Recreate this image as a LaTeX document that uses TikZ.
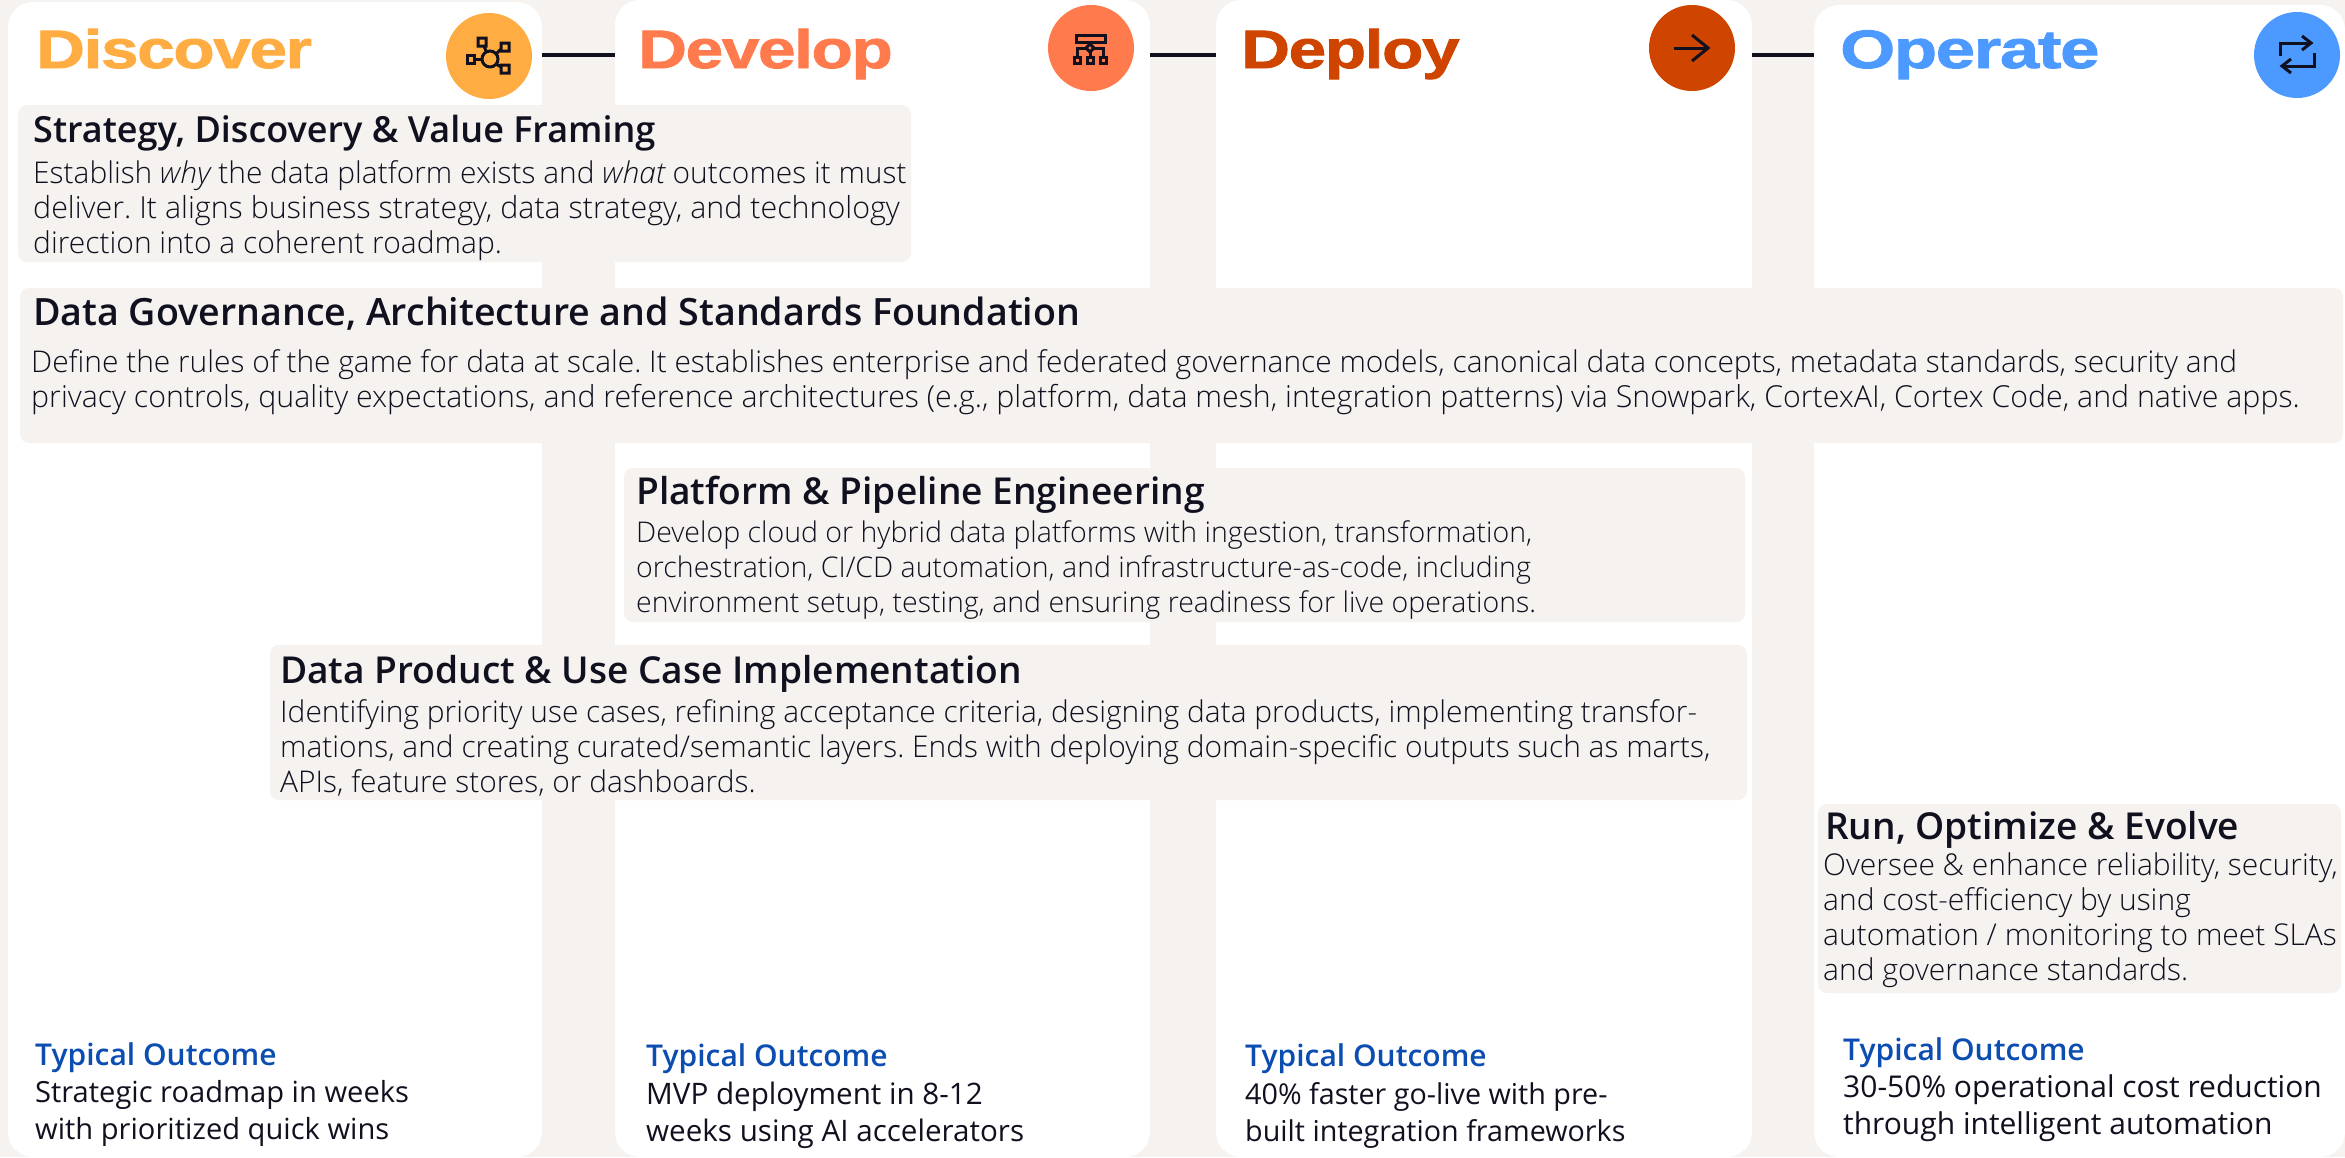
\documentclass[tikz,border=0pt]{standalone}
\usepackage{fontspec}
\setmainfont{Open Sans}
\newfontfamily\lightf{Open Sans Light}[ItalicFont={Open Sans Light Italic}]
\newfontfamily\semif{Open Sans Semibold}
\newfontfamily\headf{Liberation Sans Bold}[FakeStretch=1.25,FakeBold=1.6,LetterSpace=-2.5]
\newfontfamily\headw{Liberation Sans Bold}[FakeStretch=1.31,FakeBold=1.6,LetterSpace=-2.5]
\newcommand{\fsz}[2]{\fontsize{#1}{#2}\selectfont}
\definecolor{bgc}{HTML}{F5F2EF}
\definecolor{ink}{HTML}{10101F}
\definecolor{cDis}{HTML}{FFAD42}
\definecolor{cDev}{HTML}{FF7B4D}
\definecolor{cDep}{HTML}{CF4500}
\definecolor{cOpe}{HTML}{4C9AFF}
\definecolor{outc}{HTML}{0B4DB0}
\tikzset{
 card/.style={fill=white,draw=none,rounded corners=25pt,anchor=north west,inner sep=0,outer sep=0},
 band/.style={fill=bgc,draw=none,rounded corners=9pt,anchor=north west,inner sep=0,outer sep=0},
 heading/.style={anchor=base west,inner sep=0,font=\headf\fsz{54}{54}},
 badge/.style={circle,inner sep=0,minimum size=86pt,draw=none},
 link/.style={draw=ink,line width=4pt},
 ttl/.style={anchor=base west,inner sep=0,text=ink,font=\semif\fsz{#1}{44}},
 ttl/.default=37.1,
 body/.style={anchor=base west,inner sep=0,text=ink,align=left,font=\lightf\frenchspacing\fsz{#1}{35}},
 otitle/.style={anchor=base west,inner sep=0,text=outc,font=\semif\fsz{30}{35}},
 otext/.style={anchor=base west,inner sep=0,text=ink,align=left,font=\fsz{#1}{37}},
 ico/.style={draw=ink,line width=3pt,fill=none},
}
\begin{document}
\begin{tikzpicture}[x=1pt,y=-1pt]
\useasboundingbox (0,0) rectangle (2345,1157);
\fill[bgc] (0,0) rectangle (2345,1157);
% cards
\node[card,minimum width=534pt,minimum height=1155pt] (card1) at (8,2) {};
\node[card,minimum width=535pt,minimum height=1157pt] (card2) at (615,0) {};
\node[card,minimum width=536pt,minimum height=1157pt] (card3) at (1216,0) {};
\node[card,minimum width=531pt,minimum height=1152pt] (card4) at (1814,5) {};
% connectors
\coordinate (l1a) at (card1.east |- 0,55); \coordinate (l1b) at (card2.west |- 0,55);
\coordinate (l2a) at (card2.east |- 0,55); \coordinate (l2b) at (card3.west |- 0,55);
\coordinate (l3a) at (card3.east |- 0,55); \coordinate (l3b) at (card4.west |- 0,55);
\draw[link] (l1a) -- (l1b);
\draw[link] (l2a) -- (l2b);
\draw[link] (l3a) -- (l3b);
% headings
\node[heading,text=cDis] (hDis) at (36,68) {Discover};
\node[heading,text=cDev] (hDev) at (638,68) {Develop};
\node[heading,text=cDep] (hDep) at (1241,68) {Deploy};
\node[heading,text=cOpe,font=\headw\fsz{54}{54}] (hOpe) at (1840,68) {Operate};
% badges
\node[badge,fill=cDis] (bDis) at (489,56) {};
\node[badge,fill=cDev] (bDev) at (1091,48) {};
\node[badge,fill=cDep] (bDep) at (1692,48) {};
\node[badge,fill=cOpe] (bOpe) at (2297,55) {};
% icon: hub
\begin{scope}[shift={(489,56)}]
 \draw[ico] (1,3) circle (8);
 \draw[ico] (-22,-1) rectangle (-15,7) (-15,3) -- (-7,3);
 \draw[ico] (-11,-18) rectangle (-3,-10) (-5,-10) -- (-3,-5);
 \draw[ico] (12,-13) rectangle (20,-5) (12,-7) -- (7,-2);
 \draw[ico] (12,9) rectangle (20,17) (12,11) -- (7,8);
\end{scope}
% icon: hierarchy
\begin{scope}[shift={(1091,48)}]
 \draw[ico] (-15,-13) rectangle (14,-6);
 \draw[ico] (-1,-6) -- (-1,-4);
 \draw[ico] (-1,-4) -- (3,0) -- (-1,4) -- (-5,0) -- cycle;
 \draw[ico] (-5,0) -- (-14,0) -- (-14,8);
 \draw[ico] (3,0) -- (12,0) -- (12,8);
 \draw[ico] (-1,4) -- (-1,8);
 \draw[ico] (-17,9) rectangle (-11,15);
 \draw[ico] (-4,9) rectangle (2,15);
 \draw[ico] (9,9) rectangle (15,15);
\end{scope}
% icon: arrow
\begin{scope}[shift={(1692,48)}]
 \draw[ico] (-18,0) -- (16,0);
 \draw[ico] (0,-13) -- (16,0) -- (0,13);
\end{scope}
% icon: swap
\begin{scope}[shift={(2297,55)}]
 \draw[ico] (-17,1) -- (-17,-12) -- (14,-12);
 \draw[ico] (5,-19) -- (14,-12) -- (5,-5);
 \draw[ico] (17,-2) -- (17,11) -- (-15,11);
 \draw[ico] (-6,4) -- (-15,11) -- (-6,18);
\end{scope}
% bands
\node[band,minimum width=893pt,minimum height=157pt] (bA) at (18,105) {};
\node[band,minimum width=2323pt,minimum height=155pt] (bB) at (20,288) {};
\node[band,minimum width=1121pt,minimum height=154pt] (bC) at (624,468) {};
\node[band,minimum width=1477pt,minimum height=155pt] (bD) at (270,645) {};
\node[band,minimum width=523pt,minimum height=189pt] (bE) at (1818,804) {};
% band text (base anchor = last line)
\node[ttl=36] (tA) at (33,142) {Strategy, Discovery \& Value Framing};
\node[body=30] (xA) at (33,253) {\fsz{29.9}{35}Establish {\itshape why} the data platform exists and {\itshape what} outcomes it must\\\fsz{30.4}{35}deliver. It aligns business strategy, data strategy, and technology\\direction into a coherent roadmap.};
\node[ttl=37.6] (tB) at (33,325) {Data Governance, Architecture and Standards Foundation};
\node[body=30.2] (xB) at (31,407) {\fsz{29.9}{35}Define the rules of the game for data at scale. It establishes enterprise and federated governance models, canonical data concepts, metadata standards, security and\\\fsz{30.3}{35}privacy controls, quality expectations, and reference architectures (e.g., platform, data mesh, integration patterns) via Snowpark, CortexAI, Cortex Code, and native apps.};
\node[ttl] (tC) at (636,504) {Platform \& Pipeline Engineering};
\node[body=28.5] (xC) at (636,612) {Develop cloud or hybrid data platforms with ingestion, transformation,\\orchestration, CI/CD automation, and infrastructure-as-code, including\\environment setup, testing, and ensuring readiness for live operations.};
\node[ttl] (tD) at (280,683) {Data Product \& Use Case Implementation};
\node[body=29.9] (xD) at (280,792) {Identifying priority use cases, refining acceptance criteria, designing data products, implementing transfor-\\mations, and creating curated/semantic layers. Ends with deploying domain-specific outputs such as marts,\\APIs, feature stores, or dashboards.};
\node[ttl] (tE) at (1825,839) {Run, Optimize \& Evolve};
\node[body=30] (xE) at (1823,980) {Oversee \& enhance reliability, security,\\and cost-efficiency by using\\automation / monitoring to meet SLAs\\and governance standards.};
% outcomes
\node[otitle] (oA) at (35,1065) {Typical Outcome};
\node[otext=29.1] (pA) at (35,1139) {Strategic roadmap in weeks\\with prioritized quick wins};
\node[otitle] (oB) at (646,1066) {Typical Outcome};
\node[otext=29.6] (pB) at (646,1141) {MVP deployment in 8-12\\weeks using AI accelerators};
\node[otitle] (oC) at (1245,1066) {Typical Outcome};
\node[otext=28.7] (pC) at (1245,1141) {40\% faster go-live with pre-\\built integration frameworks};
\node[otitle] (oD) at (1843,1060) {Typical Outcome};
\node[otext=30] (pD) at (1843,1134) {30-50\% operational cost reduction\\through intelligent automation};
\end{tikzpicture}
\end{document}
